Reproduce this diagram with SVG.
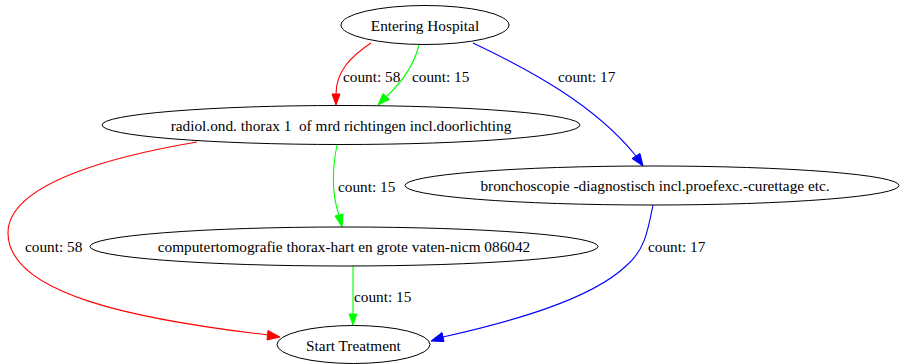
<svg xmlns="http://www.w3.org/2000/svg" width="901" height="364" viewBox="0 0 901 364">
  <style>
    .node ellipse { fill: none; stroke: #000; stroke-width: 1; }
    text { font-family: 'Liberation Serif', 'Times New Roman', Times, serif; font-size: 15.3px; fill: #000; white-space: pre; }
    .node text { text-anchor: middle; }
    .edge path { fill: none; stroke-width: 1.1; }
    .red path { stroke: #ff0000; }
    .red polygon { fill: #ff0000; stroke: #ff0000; }
    .green path { stroke: #00ff00; }
    .green polygon { fill: #00ff00; stroke: #00ff00; }
    .blue path { stroke: #0000ff; }
    .blue polygon { fill: #0000ff; stroke: #0000ff; }
  </style>
  <rect width="901" height="364" fill="#fff"/>

  <g id="connectors">
    <g class="edge red">
      <path d="M371,43 C350,57 336,72 336,94"/>
      <polygon points="332,94 336,105 340,94"/>
      <text x="343" y="82">count: 58</text>
    </g>
    <g class="edge green">
      <path d="M419,45 C414,66 401,83 386,97"/>
      <polygon points="383,93.5 378,105 389.5,99.5"/>
      <text x="412" y="82">count: 15</text>
    </g>
    <g class="edge blue">
      <path d="M473,43 C530,70 595,105 636,156"/>
      <polygon points="632,158.5 643,166 640,153.5"/>
      <text x="558" y="82">count: 17</text>
    </g>
    <g class="edge green">
      <path d="M337,145 C332,170 332,195 339,215"/>
      <polygon points="335,216 342,227 343,214"/>
      <text x="338" y="192">count: 15</text>
    </g>
    <g class="edge red">
      <path d="M197,142 C120,155 8,182 8,233 C8,295 140,320 268,335"/>
      <polygon points="268,330.5 280,337 267,340"/>
      <text x="25" y="252">count: 58</text>
    </g>
    <g class="edge blue">
      <path d="M653,205 C648,230 645,250 626,266 C590,300 510,322 443,337"/>
      <polygon points="442,332.5 431,341 444,341.5"/>
      <text x="648" y="252">count: 17</text>
    </g>
    <g class="edge green">
      <path d="M353,266 L353,314"/>
      <polygon points="349,314 353,325 357,314"/>
      <text x="354" y="302">count: 15</text>
    </g>
  </g>

  <g id="entering-hospital" class="node">
    <ellipse cx="425" cy="25" rx="84" ry="19.5"/>
    <text x="425" y="31">Entering Hospital</text>
  </g>
  <g id="radiol-thorax" class="node">
    <ellipse cx="341" cy="125" rx="239" ry="19.5"/>
    <text x="341" y="131">radiol.ond. thorax 1  of mrd richtingen incl.doorlichting</text>
  </g>
  <g id="bronchoscopie" class="node">
    <ellipse cx="652" cy="185.5" rx="247" ry="19.5"/>
    <text x="655" y="191">bronchoscopie -diagnostisch incl.proefexc.-curettage etc.</text>
  </g>
  <g id="computertomografie" class="node">
    <ellipse cx="344" cy="246.5" rx="254" ry="19.5"/>
    <text x="344" y="252">computertomografie thorax-hart en grote vaten-nicm 086042</text>
  </g>
  <g id="start-treatment" class="node">
    <ellipse cx="353.5" cy="344.5" rx="76.5" ry="19"/>
    <text x="353.5" y="351">Start Treatment</text>
  </g>
</svg>
